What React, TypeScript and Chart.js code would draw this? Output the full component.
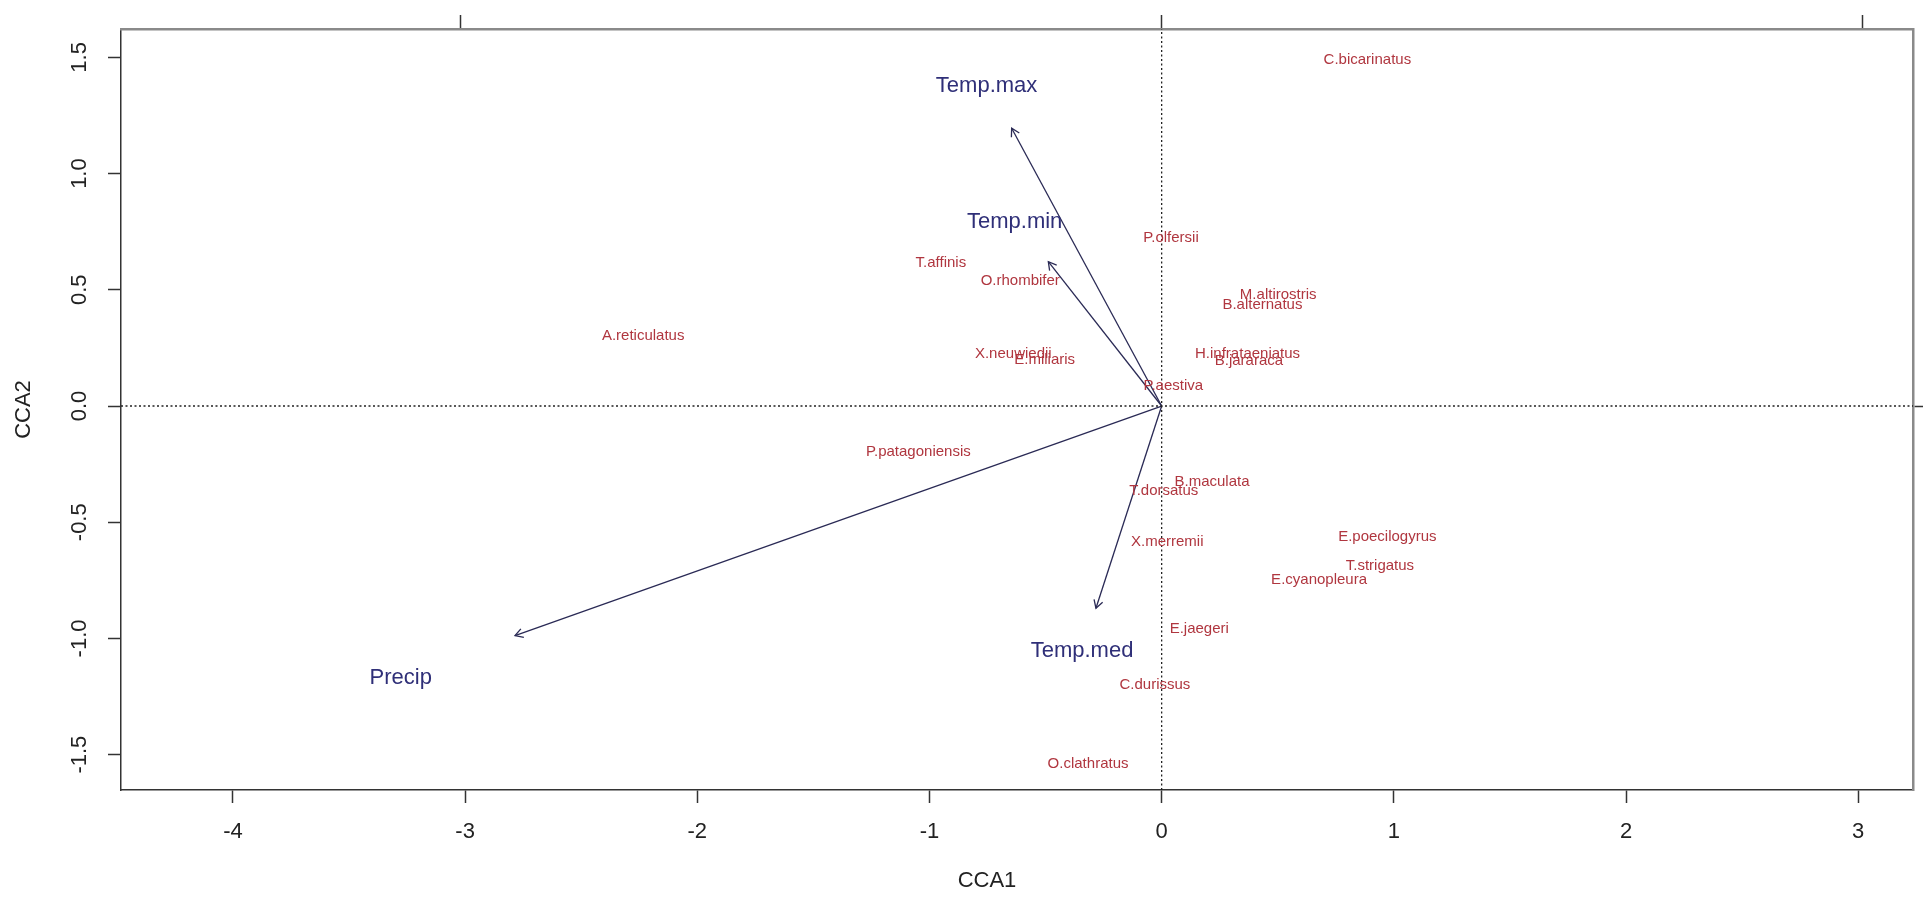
import React, { useEffect, useRef } from "react";
import { Chart, registerables } from "chart.js";

Chart.register(...registerables);

const W = 1923;
const H = 899;
const FONT = "'Liberation Sans', Arial, Helvetica, sans-serif";

// Species scores (CCA1, CCA2)
const speciesNames = [
  "A.reticulatus", "C.bicarinatus", "P.olfersii", "T.affinis", "O.rhombifer",
  "M.altirostris", "B.alternatus", "X.neuwiedii", "E.miliaris", "H.infrataeniatus",
  "B.jararaca", "P.aestiva", "P.patagoniensis", "B.maculata", "T.dorsatus",
  "X.merremii", "E.poecilogyrus", "T.strigatus", "E.cyanopleura", "E.jaegeri",
  "C.durissus", "O.clathratus",
];
const speciesX = [
  -2.233, 0.886, 0.040, -0.951, -0.609,
  0.502, 0.434, -0.639, -0.504, 0.370,
  0.376, 0.050, -1.048, 0.217, 0.009,
  0.024, 0.972, 0.940, 0.678, 0.162,
  -0.029, -0.317,
];
const speciesY = [
  0.309, 1.494, 0.728, 0.621, 0.542,
  0.485, 0.442, 0.229, 0.205, 0.229,
  0.198, 0.090, -0.194, -0.323, -0.359,
  -0.580, -0.559, -0.681, -0.741, -0.952,
  -1.193, -1.533,
];

// Environmental biplot arrows
const envNames = ["Temp.max", "Temp.min", "Temp.med", "Precip"];
const envArrowX = [-0.646, -0.488, -0.283, -2.785];
const envArrowY = [1.195, 0.621, -0.870, -0.988];
const envLabelX = [-0.754, -0.633, -0.343, -3.277];
const envLabelY = [1.384, 0.798, -1.044, -1.162];

// Axes
const xLimits = [-4.482, 3.236];
const yLimits = [-1.652, 1.622];
const xTicks = [-4, -3, -2, -1, 0, 1, 2, 3];
const xTickLabels = ["-4", "-3", "-2", "-1", "0", "1", "2", "3"];
const yTicks = [-1.5, -1, -0.5, 0, 0.5, 1, 1.5];
const yTickLabels = ["-1.5", "-1.0", "-0.5", "0.0", "0.5", "1.0", "1.5"];
const topTicks = [-3.02, 0, 3.02];
const rightTicks = [0];
const xTitle = "CCA1";
const yTitle = "CCA2";

const SPECIES_COLOR = "#b0363f";
const ENV_COLOR = "#2f2f78";
const ARROW_COLOR = "#2a2a55";
const AXIS_COLOR = "#333333";
const FRAME_COLOR = "#8a8a8a";
const TEXT_COLOR = "#222222";

const overlayPlugin = {
  id: "overlay",
  afterDatasetsDraw(chart: any) {
    const ctx = chart.ctx;
    chart.data.datasets.forEach((ds: any, i: number) => {
      const meta = chart.getDatasetMeta(i);
      if (ds.arrowHead) {
        const p0 = meta.data[0];
        const p1 = meta.data[1];
        const ang = Math.atan2(p1.y - p0.y, p1.x - p0.x);
        const L = 9;
        const a = Math.PI / 6;
        ctx.save();
        ctx.strokeStyle = ds.borderColor;
        ctx.lineWidth = 1.3;
        ctx.beginPath();
        ctx.moveTo(p1.x - L * Math.cos(ang - a), p1.y - L * Math.sin(ang - a));
        ctx.lineTo(p1.x, p1.y);
        ctx.lineTo(p1.x - L * Math.cos(ang + a), p1.y - L * Math.sin(ang + a));
        ctx.stroke();
        ctx.restore();
      }
      if (ds.textLabels) {
        ctx.save();
        ctx.font = `${ds.textSize}px ${FONT}`;
        ctx.fillStyle = ds.textColor;
        ctx.textAlign = "center";
        ctx.textBaseline = "alphabetic";
        meta.data.forEach((pt: any, j: number) => {
          ctx.fillText(ds.textLabels[j], pt.x, pt.y + ds.textSize * 0.358);
        });
        ctx.restore();
      }
    });
  },
  afterDraw(chart: any) {
    // x-axis title, placed like the original R xlab (slightly left of box centre)
    const { ctx, chartArea } = chart;
    ctx.save();
    ctx.font = `22px ${FONT}`;
    ctx.fillStyle = TEXT_COLOR;
    ctx.textAlign = "center";
    ctx.textBaseline = "middle";
    ctx.fillText(xTitle, (chartArea.left + chartArea.right) / 2 - 30, chartArea.bottom + 91);
    ctx.restore();
  },
};

export default function App() {
  const ref = useRef<HTMLCanvasElement | null>(null);

  useEffect(() => {
    if (!ref.current) return;
    const datasets: any[] = [];

    datasets.push({
      label: "zero-h",
      data: [{ x: xLimits[0], y: 0 }, { x: xLimits[1], y: 0 }],
      showLine: true,
      borderColor: "#222",
      borderWidth: 1.3,
      borderDash: [2, 2.5],
      pointRadius: 0,
    });
    datasets.push({
      label: "zero-v",
      data: [{ x: 0, y: yLimits[0] }, { x: 0, y: yLimits[1] }],
      showLine: true,
      borderColor: "#222",
      borderWidth: 1.3,
      borderDash: [2, 2.5],
      pointRadius: 0,
    });

    envNames.forEach((n, i) => {
      datasets.push({
        label: n,
        data: [{ x: 0, y: 0 }, { x: envArrowX[i], y: envArrowY[i] }],
        showLine: true,
        borderColor: ARROW_COLOR,
        borderWidth: 1.3,
        pointRadius: 0,
        arrowHead: true,
      });
    });

    datasets.push({
      label: "species",
      data: speciesNames.map((_, i) => ({ x: speciesX[i], y: speciesY[i] })),
      pointRadius: 0,
      textLabels: speciesNames,
      textSize: 15,
      textColor: SPECIES_COLOR,
    });
    datasets.push({
      label: "env",
      data: envNames.map((_, i) => ({ x: envLabelX[i], y: envLabelY[i] })),
      pointRadius: 0,
      textLabels: envNames,
      textSize: 22,
      textColor: ENV_COLOR,
    });

    const tickFont = { family: FONT, size: 22 };

    const chart = new Chart(ref.current, {
      type: "scatter",
      data: { datasets },
      plugins: [overlayPlugin],
      options: {
        animation: false,
        responsive: false,
        devicePixelRatio: 1,
        layout: { padding: 0 },
        plugins: { legend: { display: false }, tooltip: { enabled: false } },
        scales: {
          x: {
            type: "linear",
            position: "bottom",
            min: xLimits[0],
            max: xLimits[1],
            afterBuildTicks: (s: any) => {
              s.ticks = xTicks.map((v) => ({ value: v }));
            },
            afterFit: (s: any) => {
              s.height = 109;
            },
            ticks: {
              autoSkip: false,
              minRotation: 0,
              maxRotation: 0,
              padding: 15.5,
              font: tickFont,
              color: TEXT_COLOR,
              callback: (_v: any, i: number) => xTickLabels[i],
            },
            grid: {
              display: true,
              drawOnChartArea: false,
              drawTicks: true,
              tickLength: 13,
              tickWidth: 1.5,
              tickColor: AXIS_COLOR,
              color: AXIS_COLOR,
            },
            border: { display: true, color: AXIS_COLOR, width: 1.5 },
            title: { display: false },
          },
          y: {
            type: "linear",
            position: "left",
            min: yLimits[0],
            max: yLimits[1],
            afterBuildTicks: (s: any) => {
              s.ticks = yTicks.map((v) => ({ value: v }));
            },
            afterFit: (s: any) => {
              s.width = 121;
            },
            ticks: {
              autoSkip: false,
              minRotation: 90,
              maxRotation: 90,
              crossAlign: "center",
              padding: 9,
              font: tickFont,
              color: TEXT_COLOR,
              callback: (_v: any, i: number) => yTickLabels[i],
            },
            grid: {
              display: true,
              drawOnChartArea: false,
              drawTicks: true,
              tickLength: 13,
              tickWidth: 1.5,
              tickColor: AXIS_COLOR,
              color: AXIS_COLOR,
            },
            border: { display: true, color: AXIS_COLOR, width: 1.5 },
            title: {
              display: true,
              text: yTitle,
              font: tickFont,
              color: TEXT_COLOR,
              padding: { top: 11, bottom: 0 },
            },
          },
          xTop: {
            type: "linear",
            position: "top",
            min: xLimits[0],
            max: xLimits[1],
            afterBuildTicks: (s: any) => {
              s.ticks = topTicks.map((v) => ({ value: v }));
            },
            afterFit: (s: any) => {
              s.height = 29;
            },
            ticks: { display: false, autoSkip: false },
            grid: {
              display: true,
              drawOnChartArea: false,
              drawTicks: true,
              tickLength: 14,
              tickWidth: 1.5,
              tickColor: AXIS_COLOR,
              color: AXIS_COLOR,
            },
            border: { display: true, color: FRAME_COLOR, width: 2.5 },
          },
          yRight: {
            type: "linear",
            position: "right",
            min: yLimits[0],
            max: yLimits[1],
            afterBuildTicks: (s: any) => {
              s.ticks = rightTicks.map((v) => ({ value: v }));
            },
            afterFit: (s: any) => {
              s.width = 10;
            },
            ticks: { display: false, autoSkip: false },
            grid: {
              display: true,
              drawOnChartArea: false,
              drawTicks: true,
              tickLength: 10,
              tickWidth: 1.5,
              tickColor: AXIS_COLOR,
              color: AXIS_COLOR,
            },
            border: { display: true, color: FRAME_COLOR, width: 2.5 },
          },
        },
      } as any,
    });

    return () => chart.destroy();
  }, []);

  return (
    <div
      style={{
        position: "fixed",
        left: 0,
        top: 0,
        width: W,
        height: H,
        background: "#ffffff",
      }}
    >
      <canvas ref={ref} width={W} height={H} style={{ display: "block" }} />
    </div>
  );
}
